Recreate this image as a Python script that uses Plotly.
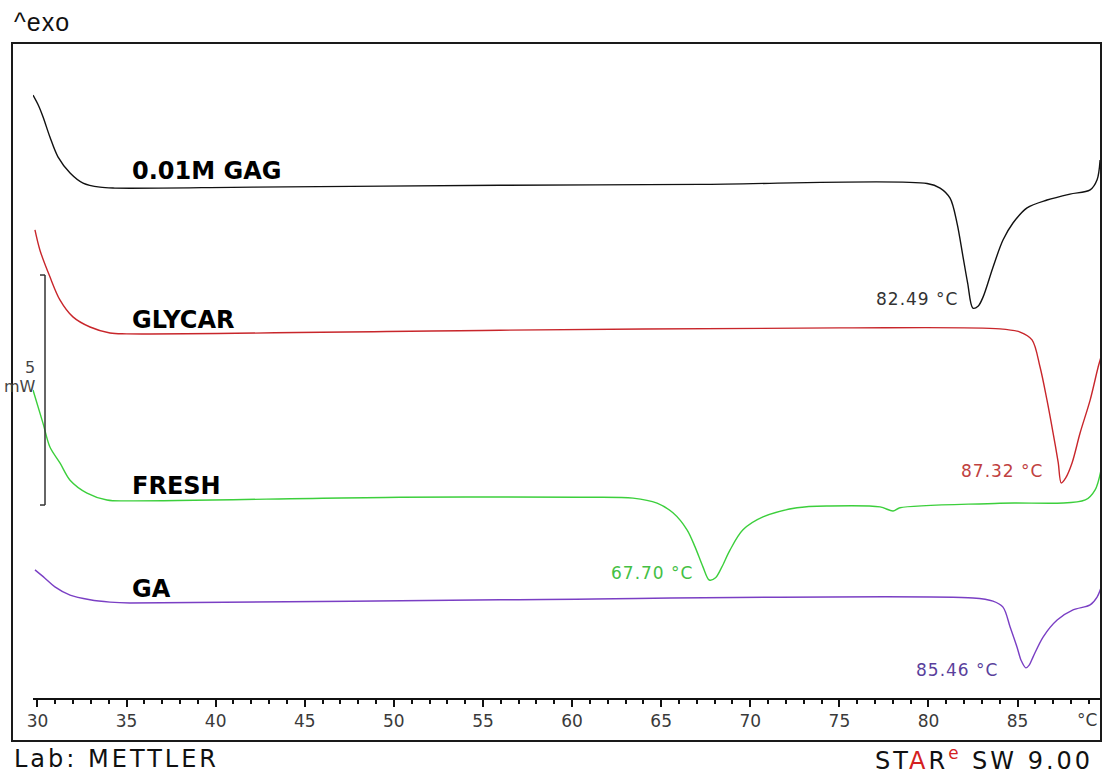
import plotly.graph_objects as go

# ---------------- data (temperature in °C, heat flow in mW, stacked) ----------------
T_GAG = [29.75, 30.05, 30.31, 30.70, 31.15, 31.83, 32.56, 33.51, 34.35, 42.1, 55.96, 67.18, 79.92,
         80.65, 81.21, 81.60, 81.94, 82.20, 82.49, 82.78, 83.06, 83.62, 84.18, 84.74, 85.53, 86.65,
         87.94, 89.07, 89.46, 89.63]
Q_GAG = [14.04, 13.82, 13.57, 13.13, 12.70, 12.35, 12.13, 12.04, 12.02, 12.04, 12.08, 12.10, 12.12,
         12.02, 11.80, 11.26, 10.52, 9.95, 9.41, 9.45, 9.65, 10.30, 10.89, 11.26, 11.59, 11.76,
         11.89, 11.98, 12.20, 12.63]

T_GLY = [29.86, 30.14, 30.70, 31.26, 31.99, 32.95, 34.07, 35.0, 55.96, 75.0, 84.01, 85.14,
         85.81, 86.26, 86.65, 86.99, 87.28, 87.45, 87.70, 88.06, 88.51, 89.07, 89.52, 89.68]
Q_GLY = [11.11, 10.67, 10.09, 9.59, 9.22, 9.00, 8.87, 8.85, 8.93, 8.98, 8.96, 8.89,
         8.72, 8.13, 7.41, 6.70, 6.05, 5.61, 5.72, 6.05, 6.70, 7.41, 8.13, 8.35]

T_FRESH = [29.75, 30.31, 30.70, 31.27, 31.83, 32.78, 33.90, 35.02, 50.34, 60.45, 63.42, 64.77,
           65.66, 66.45, 66.90, 67.35, 67.70, 68.05, 68.40, 68.86, 69.59, 70.71, 72.62, 74.47,
           77.28, 78.01, 78.40, 84.0, 88.8, 89.35, 89.68]
Q_FRESH = [7.63, 6.91, 6.39, 6.04, 5.67, 5.39, 5.24, 5.22, 5.30, 5.30, 5.28, 5.17,
           4.96, 4.59, 4.22, 3.78, 3.50, 3.55, 3.78, 4.15, 4.59, 4.87, 5.07, 5.11,
           5.09, 5.00, 5.07, 5.17, 5.24, 5.46, 5.89]

T_GA = [29.86, 30.42, 30.98, 31.83, 32.95, 34.07, 35.19, 55.96, 82.5, 83.62, 84.18, 84.58,
        84.97, 85.20, 85.46, 85.65, 85.87, 86.43, 87.22, 88.11, 89.07, 89.46, 89.68]
Q_GA = [3.72, 3.54, 3.35, 3.17, 3.07, 3.02, 3.00, 3.07, 3.11, 3.04, 2.91, 2.48,
        2.04, 1.75, 1.59, 1.65, 1.83, 2.26, 2.63, 2.85, 2.96, 3.13, 3.33]

NAMES = ["0.01M GAG", "GLYCAR", "FRESH", "GA"]
PEAK_TEXT = ["82.49 °C", "87.32 °C", "67.70 °C", "85.46 °C"]
COLORS = ["#111111", "#c8262b", "#3ccf3c", "#7a3fc4"]
LABEL_COLORS = ["#333333", "#c04040", "#44c044", "#5a3f9c"]
TICKS = [30, 35, 40, 45, 50, 55, 60, 65, 70, 75, 80, 85]

# ---------------- layout geometry ----------------
W, H = 1102, 773
ML, MR, MT, MB = 12, 1, 43, 32
PW, PH = W - ML - MR, H - MT - MB
PX_PER_MW = 46.0
T_MIN, T_MAX = 29.75, 89.68
AXIS_START_PX = 33


def px_x(px):
    return (px - ML) / PW


def px_y(py):
    return (H - MB - py) / PH


def spaced(txt, px):
    return '<span style="letter-spacing:%spx">%s</span>' % (px, txt)


series = [(T_GAG, Q_GAG), (T_GLY, Q_GLY), (T_FRESH, Q_FRESH), (T_GA, Q_GA)]

fig = go.Figure()
for (t, q), c, n in zip(series, COLORS, NAMES):
    fig.add_trace(go.Scatter(x=t, y=q, mode="lines", name=n,
                             line=dict(color=c, width=1.4, shape="spline", smoothing=0.9),
                             showlegend=False, hoverinfo="skip"))

fig.update_layout(
    width=W, height=H,
    margin=dict(l=ML, r=MR, t=MT, b=MB, pad=0),
    paper_bgcolor="white", plot_bgcolor="white",
    xaxis=dict(domain=[px_x(AXIS_START_PX), 1], range=[T_MIN, T_MAX],
               anchor="free", position=px_y(699),
               showline=True, linewidth=2, linecolor="#111111",
               ticks="outside", ticklen=7, tickwidth=2, tickcolor="#111111",
               tickvals=TICKS, ticktext=[str(v) for v in TICKS],
               tickfont=dict(family="DejaVu Sans", size=17, color="#3a3a3a"),
               showgrid=False, zeroline=False,
               minor=dict(dtick=1, tick0=30, ticks="outside", ticklen=4, tickwidth=2,
                          tickcolor="#111111", showgrid=False)),
    yaxis=dict(range=[0, PH / PX_PER_MW], visible=False, domain=[0, 1]),
)

# frame
fig.add_shape(type="rect", xref="paper", yref="paper", x0=0, x1=1, y0=0, y1=1,
              line=dict(color="#1a1a1a", width=2), layer="above")

# 5 mW scale bar
bar_x = px_x(45)
fig.add_shape(type="line", xref="paper", yref="y", x0=bar_x, x1=bar_x, y0=5.13, y1=10.13,
              line=dict(color="#333333", width=1.5))
for yy in (5.13, 10.13):
    fig.add_shape(type="line", xref="paper", yref="y", x0=px_x(40), x1=bar_x, y0=yy, y1=yy,
                  line=dict(color="#333333", width=1.5))
fig.add_annotation(xref="paper", yref="y", x=px_x(30), y=8.11, text="5", showarrow=False,
                   font=dict(family="DejaVu Sans", size=16, color="#444444"),
                   xanchor="center", yanchor="middle")
fig.add_annotation(xref="paper", yref="y", x=px_x(38), y=7.70, text="mW", showarrow=False,
                   font=dict(family="DejaVu Sans", size=16, color="#444444"),
                   xanchor="right", yanchor="middle")

# curve names
name_y = [12.39, 9.15, 5.54, 3.30]
for n, yy in zip(NAMES, name_y):
    fig.add_annotation(x=35.19, y=yy, text="<b>%s</b>" % n, showarrow=False,
                       xanchor="left", yanchor="middle",
                       font=dict(family="DejaVu Sans", size=24, color="#000000"))

# peak labels
peak_label_x = [81.77, 86.54, 66.90, 84.01]
peak_label_y = [9.61, 5.87, 3.65, 1.54]
for txt, xx, yy, c in zip(PEAK_TEXT, peak_label_x, peak_label_y, LABEL_COLORS):
    fig.add_annotation(x=xx, y=yy, text=spaced(txt, 1), showarrow=False,
                       xanchor="right", yanchor="middle",
                       font=dict(family="DejaVu Sans", size=17, color=c))

# unit on axis
fig.add_annotation(xref="paper", yref="paper", x=px_x(1099), y=px_y(720), text="°C",
                   showarrow=False, xanchor="right", yanchor="middle",
                   font=dict(family="DejaVu Sans", size=17, color="#3a3a3a"))

# header / footer texts
fig.add_annotation(xref="paper", yref="paper", x=px_x(12), y=px_y(22), text=spaced("^exo", 1),
                   showarrow=False, xanchor="left", yanchor="middle",
                   font=dict(family="Liberation Sans", size=25, color="#111111"))
fig.add_annotation(xref="paper", yref="paper", x=px_x(12), y=px_y(759),
                   text=spaced("Lab: METTLER", 3),
                   showarrow=False, xanchor="left", yanchor="middle",
                   font=dict(family="DejaVu Sans", size=24, color="#111111"))
fig.add_annotation(xref="paper", yref="paper", x=px_x(1095), y=px_y(759),
                   text='<span style="letter-spacing:3px">ST</span>'
                        '<span style="letter-spacing:3px;color:#d42020">A</span>'
                        '<span style="letter-spacing:3px">R</span>'
                        '<sup><span style="letter-spacing:3px;color:#d42020">e</span></sup>'
                        '<span style="letter-spacing:3px"> SW 9.00</span>',
                   showarrow=False, xanchor="right", yanchor="middle",
                   font=dict(family="DejaVu Sans", size=24, color="#111111"))

fig.write_html("out.html", post_script="document.body.style.margin='0';",
               config={"displayModeBar": False})
